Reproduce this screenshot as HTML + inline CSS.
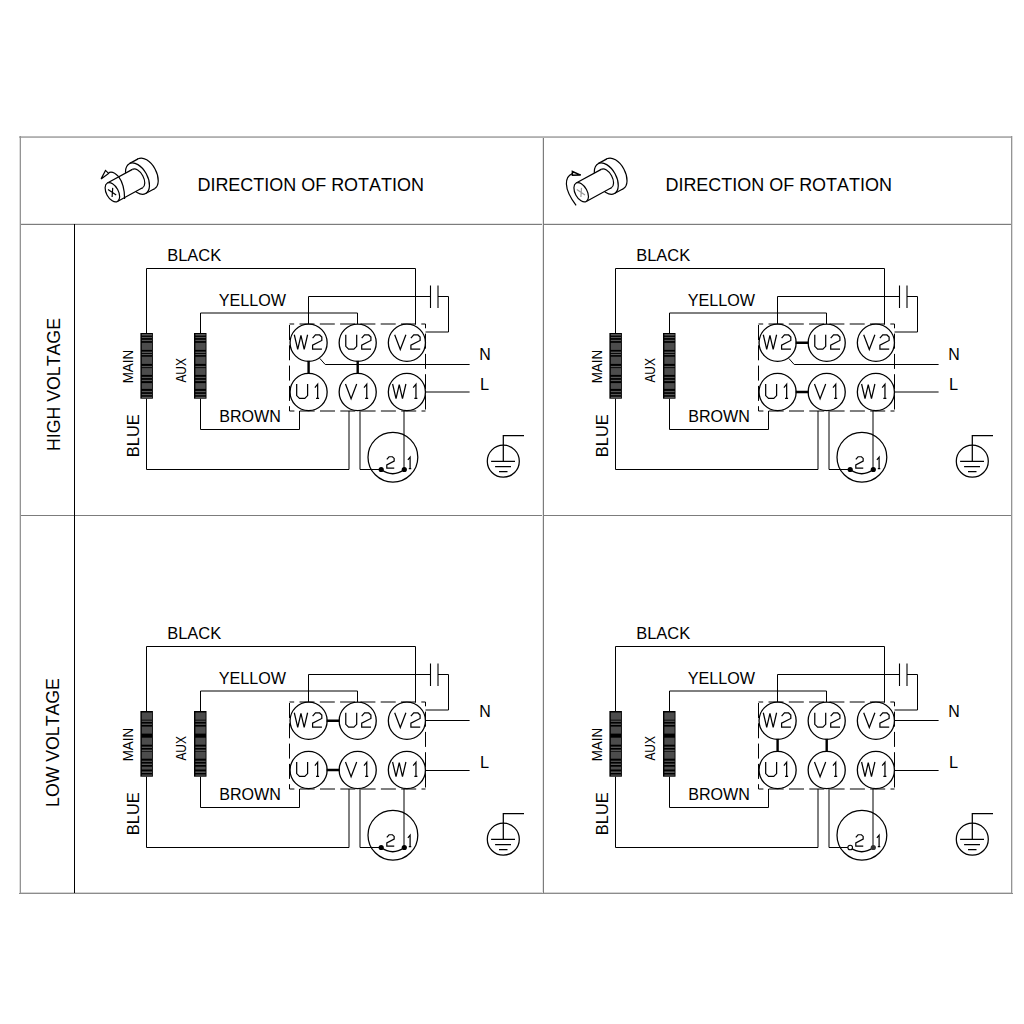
<!DOCTYPE html>
<html><head><meta charset="utf-8"><style>
html,body{margin:0;padding:0;background:#fff;}
svg{display:block;}
text{fill:#000;font-family:"Liberation Sans", sans-serif;font-kerning:none;}
</style></head><body>
<svg width="1024" height="1024" viewBox="0 0 1024 1024">
<rect width="1024" height="1024" fill="#fff"/>
<g shape-rendering="crispEdges">
<rect x="19" y="136" width="994" height="1" fill="#bcbcbc"/>
<rect x="19" y="137" width="994" height="1" fill="#b0b0b0"/>
<rect x="20" y="136" width="1" height="758" fill="#949494"/>
<rect x="19" y="138" width="1" height="756" fill="#dcdcdc"/>
<rect x="1011" y="136" width="1" height="758" fill="#949494"/>
<rect x="1012" y="136" width="1" height="758" fill="#dcdcdc"/>
<rect x="19" y="893" width="994" height="1" fill="#8c8c8c"/>
<rect x="21" y="892" width="990" height="1" fill="#d4d4d4"/>
<rect x="21" y="224" width="990" height="1" fill="#7c7c7c"/>
<rect x="21" y="223" width="990" height="1" fill="#e4e4e4"/>
<rect x="21" y="515" width="990" height="1" fill="#7c7c7c"/>
<rect x="543" y="138" width="1" height="755" fill="#7c7c7c"/>
<rect x="542" y="138" width="1" height="755" fill="#e4e4e4"/>
<rect x="74" y="224" width="1" height="669" fill="#000"/>
</g>
<text x="197.43" y="190.70" font-size="18" textLength="226.54" lengthAdjust="spacingAndGlyphs">DIRECTION OF ROTATION</text>
<text x="665.43" y="190.70" font-size="18" textLength="226.54" lengthAdjust="spacingAndGlyphs">DIRECTION OF ROTATION</text>
<text transform="translate(59.50,451.05) rotate(-90)" font-size="18" textLength="133.02" lengthAdjust="spacingAndGlyphs">HIGH VOLTAGE</text>
<text transform="translate(58.90,806.95) rotate(-90)" font-size="18" textLength="128.81" lengthAdjust="spacingAndGlyphs">LOW VOLTAGE</text>
<g transform="translate(0,0)"><text x="167.25" y="261.00" font-size="16" textLength="53.93" lengthAdjust="spacingAndGlyphs">BLACK</text><text x="218.85" y="305.80" font-size="16" textLength="67.21" lengthAdjust="spacingAndGlyphs">YELLOW</text><text x="219.28" y="421.80" font-size="16" textLength="61.63" lengthAdjust="spacingAndGlyphs">BROWN</text><text x="479.19" y="360.20" font-size="16" textLength="11.51" lengthAdjust="spacingAndGlyphs">N</text><text x="480.06" y="389.80" font-size="16" textLength="9.08" lengthAdjust="spacingAndGlyphs">L</text><text transform="translate(133.00,383.30) rotate(-90)" font-size="14" textLength="33.49" lengthAdjust="spacingAndGlyphs">MAIN</text><text transform="translate(186.40,382.62) rotate(-90)" font-size="14" textLength="24.57" lengthAdjust="spacingAndGlyphs">AUX</text><text transform="translate(138.70,457.15) rotate(-90)" font-size="16" textLength="42.96" lengthAdjust="spacingAndGlyphs">BLUE</text><rect x="140.4" y="333.0" width="12.5" height="65.7" fill="#000"/><rect x="141.8" y="334.0" width="10.2" height="1.6" fill="#565656"/><rect x="141.8" y="336.9" width="10.2" height="1.2" fill="#565656"/><rect x="141.8" y="339.8" width="10.2" height="1.3" fill="#565656"/><rect x="141.8" y="342.8" width="10.2" height="7.1" fill="#4c4c4c"/><rect x="141.8" y="351.6" width="10.2" height="1.4" fill="#565656"/><rect x="141.8" y="353.9" width="10.2" height="1.2" fill="#565656"/><rect x="141.8" y="356.7" width="10.2" height="7.2" fill="#4c4c4c"/><rect x="141.8" y="365.9" width="10.2" height="1.3" fill="#565656"/><rect x="141.8" y="368.1" width="10.2" height="6.8" fill="#4c4c4c"/><rect x="141.8" y="376.8" width="10.2" height="1.3" fill="#565656"/><rect x="141.8" y="379.8" width="10.2" height="1.3" fill="#565656"/><rect x="141.8" y="383.1" width="10.2" height="5.8" fill="#4c4c4c"/><rect x="141.8" y="390.9" width="10.2" height="1.3" fill="#565656"/><rect x="141.8" y="393.9" width="10.2" height="1.3" fill="#565656"/><rect x="141.8" y="396.7" width="10.2" height="1.3" fill="#565656"/><rect x="194.0" y="333.0" width="12.5" height="65.7" fill="#000"/><rect x="195.4" y="334.0" width="10.2" height="1.6" fill="#565656"/><rect x="195.4" y="336.9" width="10.2" height="1.2" fill="#565656"/><rect x="195.4" y="339.8" width="10.2" height="1.3" fill="#565656"/><rect x="195.4" y="342.8" width="10.2" height="7.1" fill="#4c4c4c"/><rect x="195.4" y="351.6" width="10.2" height="1.4" fill="#565656"/><rect x="195.4" y="353.9" width="10.2" height="1.2" fill="#565656"/><rect x="195.4" y="356.7" width="10.2" height="7.2" fill="#4c4c4c"/><rect x="195.4" y="365.9" width="10.2" height="1.3" fill="#565656"/><rect x="195.4" y="368.1" width="10.2" height="6.8" fill="#4c4c4c"/><rect x="195.4" y="376.8" width="10.2" height="1.3" fill="#565656"/><rect x="195.4" y="379.8" width="10.2" height="1.3" fill="#565656"/><rect x="195.4" y="383.1" width="10.2" height="5.8" fill="#4c4c4c"/><rect x="195.4" y="390.9" width="10.2" height="1.3" fill="#565656"/><rect x="195.4" y="393.9" width="10.2" height="1.3" fill="#565656"/><rect x="195.4" y="396.7" width="10.2" height="1.3" fill="#565656"/><g fill="none" stroke="#000" stroke-width="1"><path d="M146.5 333 V268.5 H415.5 V324.5"/><path d="M200.5 333 V313 H357.5 V324.5"/><path d="M308.5 324.5 V296.5 H430.5 M438 296.5 H448.5 V332 H425.5"/><path d="M430.5 285.5 V308 M438 285.5 V308" stroke-width="1.1"/><path d="M200.5 398.7 V429.5 H299.5 V411"/><path d="M146.5 398.7 V469.5 H349 V411"/><path d="M360 411 V469.5 H381"/><path d="M404 411 V469.5"/><path d="M319.8 358.4 L325.2 364.5 H469.6"/><path d="M425.5 392 H469.6"/></g><path d="M289.50 324.0 H294.20 M299.50 324.0 H314.50 M319.80 324.0 H334.80 M340.10 324.0 H355.10 M360.40 324.0 H375.40 M380.70 324.0 H395.70 M401.00 324.0 H416.00 M421.30 324.0 H425.50" stroke="#000" stroke-width="1.0" fill="none"/><path d="M289.50 411.0 H294.40 M299.70 411.0 H314.70 M320.00 411.0 H335.00 M340.30 411.0 H355.30 M360.60 411.0 H375.60 M380.90 411.0 H395.90 M401.20 411.0 H416.20 M421.50 411.0 H425.50" stroke="#000" stroke-width="1.0" fill="none"/><path d="M289.5 325.00 V340.00 M289.5 345.30 V360.30 M289.5 365.60 V380.60 M289.5 385.90 V400.90 M289.5 406.20 V411.00" stroke="#000" stroke-width="1.0" fill="none"/><path d="M425.5 324.00 V328.30 M425.5 333.60 V348.60 M425.5 353.90 V368.90 M425.5 374.20 V389.20 M425.5 394.50 V409.50" stroke="#000" stroke-width="1.0" fill="none"/><g fill="#fff" stroke="#000" stroke-width="1.3"><circle cx="308.6" cy="342.75" r="18.55"/><circle cx="357.7" cy="342.75" r="18.55"/><circle cx="406.9" cy="342.75" r="18.55"/><circle cx="308.6" cy="392.0" r="18.55"/><circle cx="357.7" cy="392.0" r="18.55"/><circle cx="406.9" cy="392.0" r="18.55"/></g><g fill="none" stroke="#000" stroke-width="1.3" stroke-linejoin="miter"><path transform="translate(294.30,334.75) scale(0.95)" d="M0 0 L3.6 15.5 L7 0.6 L10.4 15.5 L14 0"/><path transform="translate(312.60,334.75) scale(0.95)" d="M0 3.6 L3 0.2 H7.4 L9.7 2.4 V6 L0 11 V15.2 H9.8"/><path transform="translate(345.77,334.75) scale(0.95)" d="M0 0 V12.2 L3 15.2 H8.5 L11.5 12.2 V0"/><path transform="translate(361.70,334.75) scale(0.95)" d="M0 3.6 L3 0.2 H7.4 L9.7 2.4 V6 L0 11 V15.2 H9.8"/><path transform="translate(394.69,334.75) scale(0.95)" d="M0 0 L5.9 15.5 L11.8 0"/><path transform="translate(410.90,334.75) scale(0.95)" d="M0 3.6 L3 0.2 H7.4 L9.7 2.4 V6 L0 11 V15.2 H9.8"/><path transform="translate(296.68,384.00) scale(0.95)" d="M0 0 V12.2 L3 15.2 H8.5 L11.5 12.2 V0"/><path transform="translate(314.90,384.00) scale(0.95)" d="M0 3.9 L2.9 0.2 V15.2 M1.2 15.2 H4.4"/><path transform="translate(345.49,384.00) scale(0.95)" d="M0 0 L5.9 15.5 L11.8 0"/><path transform="translate(364.00,384.00) scale(0.95)" d="M0 3.9 L2.9 0.2 V15.2 M1.2 15.2 H4.4"/><path transform="translate(392.60,384.00) scale(0.95)" d="M0 0 L3.6 15.5 L7 0.6 L10.4 15.5 L14 0"/><path transform="translate(413.20,384.00) scale(0.95)" d="M0 3.9 L2.9 0.2 V15.2 M1.2 15.2 H4.4"/></g><g stroke="#000" stroke-width="2.4"><path d="M308.6 360.75 V374.0 M357.7 360.75 V374.0"/></g><circle cx="392.9" cy="457.2" r="24.9" fill="none" stroke="#000" stroke-width="1.25"/><path d="M381.2 469.5 Q392.7 478 404.3 469.5" fill="none" stroke="#000" stroke-width="1.3"/><circle cx="381.2" cy="469.5" r="2.6" fill="#000"/><circle cx="404.3" cy="469.5" r="2.6" fill="#000"/><g fill="none" stroke="#000" stroke-width="1.6"><path transform="translate(386.80,456.60) scale(0.76)" d="M0 3.6 L3 0.2 H7.4 L9.7 2.4 V6 L0 11 V15.2 H9.8"/><path transform="translate(407.90,457.00) scale(0.76)" d="M0 3.9 L2.9 0.2 V15.2 M1.2 15.2 H4.4"/></g><g fill="none" stroke="#000" stroke-width="1.25"><circle cx="503.3" cy="461.2" r="16"/><path d="M524 435.5 H503.3 V461.3 M491.1 461.3 H515 M495.1 466.5 H511 M499 471.6 H507.5"/></g></g>
<g transform="translate(469,0)"><text x="167.25" y="261.00" font-size="16" textLength="53.93" lengthAdjust="spacingAndGlyphs">BLACK</text><text x="218.85" y="305.80" font-size="16" textLength="67.21" lengthAdjust="spacingAndGlyphs">YELLOW</text><text x="219.28" y="421.80" font-size="16" textLength="61.63" lengthAdjust="spacingAndGlyphs">BROWN</text><text x="479.19" y="360.20" font-size="16" textLength="11.51" lengthAdjust="spacingAndGlyphs">N</text><text x="480.06" y="389.80" font-size="16" textLength="9.08" lengthAdjust="spacingAndGlyphs">L</text><text transform="translate(133.00,383.30) rotate(-90)" font-size="14" textLength="33.49" lengthAdjust="spacingAndGlyphs">MAIN</text><text transform="translate(186.40,382.62) rotate(-90)" font-size="14" textLength="24.57" lengthAdjust="spacingAndGlyphs">AUX</text><text transform="translate(138.70,457.15) rotate(-90)" font-size="16" textLength="42.96" lengthAdjust="spacingAndGlyphs">BLUE</text><rect x="140.4" y="333.0" width="12.5" height="65.7" fill="#000"/><rect x="141.8" y="334.0" width="10.2" height="1.6" fill="#565656"/><rect x="141.8" y="336.9" width="10.2" height="1.2" fill="#565656"/><rect x="141.8" y="339.8" width="10.2" height="1.3" fill="#565656"/><rect x="141.8" y="342.8" width="10.2" height="7.1" fill="#4c4c4c"/><rect x="141.8" y="351.6" width="10.2" height="1.4" fill="#565656"/><rect x="141.8" y="353.9" width="10.2" height="1.2" fill="#565656"/><rect x="141.8" y="356.7" width="10.2" height="7.2" fill="#4c4c4c"/><rect x="141.8" y="365.9" width="10.2" height="1.3" fill="#565656"/><rect x="141.8" y="368.1" width="10.2" height="6.8" fill="#4c4c4c"/><rect x="141.8" y="376.8" width="10.2" height="1.3" fill="#565656"/><rect x="141.8" y="379.8" width="10.2" height="1.3" fill="#565656"/><rect x="141.8" y="383.1" width="10.2" height="5.8" fill="#4c4c4c"/><rect x="141.8" y="390.9" width="10.2" height="1.3" fill="#565656"/><rect x="141.8" y="393.9" width="10.2" height="1.3" fill="#565656"/><rect x="141.8" y="396.7" width="10.2" height="1.3" fill="#565656"/><rect x="194.0" y="333.0" width="12.5" height="65.7" fill="#000"/><rect x="195.4" y="334.0" width="10.2" height="1.6" fill="#565656"/><rect x="195.4" y="336.9" width="10.2" height="1.2" fill="#565656"/><rect x="195.4" y="339.8" width="10.2" height="1.3" fill="#565656"/><rect x="195.4" y="342.8" width="10.2" height="7.1" fill="#4c4c4c"/><rect x="195.4" y="351.6" width="10.2" height="1.4" fill="#565656"/><rect x="195.4" y="353.9" width="10.2" height="1.2" fill="#565656"/><rect x="195.4" y="356.7" width="10.2" height="7.2" fill="#4c4c4c"/><rect x="195.4" y="365.9" width="10.2" height="1.3" fill="#565656"/><rect x="195.4" y="368.1" width="10.2" height="6.8" fill="#4c4c4c"/><rect x="195.4" y="376.8" width="10.2" height="1.3" fill="#565656"/><rect x="195.4" y="379.8" width="10.2" height="1.3" fill="#565656"/><rect x="195.4" y="383.1" width="10.2" height="5.8" fill="#4c4c4c"/><rect x="195.4" y="390.9" width="10.2" height="1.3" fill="#565656"/><rect x="195.4" y="393.9" width="10.2" height="1.3" fill="#565656"/><rect x="195.4" y="396.7" width="10.2" height="1.3" fill="#565656"/><g fill="none" stroke="#000" stroke-width="1"><path d="M146.5 333 V268.5 H415.5 V324.5"/><path d="M200.5 333 V313 H357.5 V324.5"/><path d="M308.5 324.5 V296.5 H430.5 M438 296.5 H448.5 V332 H425.5"/><path d="M430.5 285.5 V308 M438 285.5 V308" stroke-width="1.1"/><path d="M200.5 398.7 V429.5 H299.5 V411"/><path d="M146.5 398.7 V469.5 H349 V411"/><path d="M360 411 V469.5 H381"/><path d="M404 411 V469.5"/><path d="M319.8 358.4 L325.2 364.5 H469.6"/><path d="M425.5 392 H469.6"/></g><path d="M289.50 324.0 H294.20 M299.50 324.0 H314.50 M319.80 324.0 H334.80 M340.10 324.0 H355.10 M360.40 324.0 H375.40 M380.70 324.0 H395.70 M401.00 324.0 H416.00 M421.30 324.0 H425.50" stroke="#000" stroke-width="1.0" fill="none"/><path d="M289.50 411.0 H294.40 M299.70 411.0 H314.70 M320.00 411.0 H335.00 M340.30 411.0 H355.30 M360.60 411.0 H375.60 M380.90 411.0 H395.90 M401.20 411.0 H416.20 M421.50 411.0 H425.50" stroke="#000" stroke-width="1.0" fill="none"/><path d="M289.5 325.00 V340.00 M289.5 345.30 V360.30 M289.5 365.60 V380.60 M289.5 385.90 V400.90 M289.5 406.20 V411.00" stroke="#000" stroke-width="1.0" fill="none"/><path d="M425.5 324.00 V328.30 M425.5 333.60 V348.60 M425.5 353.90 V368.90 M425.5 374.20 V389.20 M425.5 394.50 V409.50" stroke="#000" stroke-width="1.0" fill="none"/><g fill="#fff" stroke="#000" stroke-width="1.3"><circle cx="308.6" cy="342.75" r="18.55"/><circle cx="357.7" cy="342.75" r="18.55"/><circle cx="406.9" cy="342.75" r="18.55"/><circle cx="308.6" cy="392.0" r="18.55"/><circle cx="357.7" cy="392.0" r="18.55"/><circle cx="406.9" cy="392.0" r="18.55"/></g><g fill="none" stroke="#000" stroke-width="1.3" stroke-linejoin="miter"><path transform="translate(294.30,334.75) scale(0.95)" d="M0 0 L3.6 15.5 L7 0.6 L10.4 15.5 L14 0"/><path transform="translate(312.60,334.75) scale(0.95)" d="M0 3.6 L3 0.2 H7.4 L9.7 2.4 V6 L0 11 V15.2 H9.8"/><path transform="translate(345.77,334.75) scale(0.95)" d="M0 0 V12.2 L3 15.2 H8.5 L11.5 12.2 V0"/><path transform="translate(361.70,334.75) scale(0.95)" d="M0 3.6 L3 0.2 H7.4 L9.7 2.4 V6 L0 11 V15.2 H9.8"/><path transform="translate(394.69,334.75) scale(0.95)" d="M0 0 L5.9 15.5 L11.8 0"/><path transform="translate(410.90,334.75) scale(0.95)" d="M0 3.6 L3 0.2 H7.4 L9.7 2.4 V6 L0 11 V15.2 H9.8"/><path transform="translate(296.68,384.00) scale(0.95)" d="M0 0 V12.2 L3 15.2 H8.5 L11.5 12.2 V0"/><path transform="translate(314.90,384.00) scale(0.95)" d="M0 3.9 L2.9 0.2 V15.2 M1.2 15.2 H4.4"/><path transform="translate(345.49,384.00) scale(0.95)" d="M0 0 L5.9 15.5 L11.8 0"/><path transform="translate(364.00,384.00) scale(0.95)" d="M0 3.9 L2.9 0.2 V15.2 M1.2 15.2 H4.4"/><path transform="translate(392.60,384.00) scale(0.95)" d="M0 0 L3.6 15.5 L7 0.6 L10.4 15.5 L14 0"/><path transform="translate(413.20,384.00) scale(0.95)" d="M0 3.9 L2.9 0.2 V15.2 M1.2 15.2 H4.4"/></g><g stroke="#000" stroke-width="2.4"><path d="M326.6 342.75 H339.7 M326.6 392.0 H339.7"/></g><circle cx="392.9" cy="457.2" r="24.9" fill="none" stroke="#000" stroke-width="1.25"/><path d="M381.2 469.5 Q392.7 478 404.3 469.5" fill="none" stroke="#000" stroke-width="1.3"/><circle cx="381.2" cy="469.5" r="2.6" fill="#000"/><circle cx="404.3" cy="469.5" r="2.6" fill="#000"/><g fill="none" stroke="#000" stroke-width="1.6"><path transform="translate(386.80,456.60) scale(0.76)" d="M0 3.6 L3 0.2 H7.4 L9.7 2.4 V6 L0 11 V15.2 H9.8"/><path transform="translate(407.90,457.00) scale(0.76)" d="M0 3.9 L2.9 0.2 V15.2 M1.2 15.2 H4.4"/></g><g fill="none" stroke="#000" stroke-width="1.25"><circle cx="503.3" cy="461.2" r="16"/><path d="M524 435.5 H503.3 V461.3 M491.1 461.3 H515 M495.1 466.5 H511 M499 471.6 H507.5"/></g></g>
<g transform="translate(0,378)"><text x="167.25" y="261.00" font-size="16" textLength="53.93" lengthAdjust="spacingAndGlyphs">BLACK</text><text x="218.85" y="305.80" font-size="16" textLength="67.21" lengthAdjust="spacingAndGlyphs">YELLOW</text><text x="219.28" y="421.80" font-size="16" textLength="61.63" lengthAdjust="spacingAndGlyphs">BROWN</text><text x="479.19" y="339.00" font-size="16" textLength="11.51" lengthAdjust="spacingAndGlyphs">N</text><text x="480.06" y="389.80" font-size="16" textLength="9.08" lengthAdjust="spacingAndGlyphs">L</text><text transform="translate(133.00,383.30) rotate(-90)" font-size="14" textLength="33.49" lengthAdjust="spacingAndGlyphs">MAIN</text><text transform="translate(186.40,382.62) rotate(-90)" font-size="14" textLength="24.57" lengthAdjust="spacingAndGlyphs">AUX</text><text transform="translate(138.70,457.15) rotate(-90)" font-size="16" textLength="42.96" lengthAdjust="spacingAndGlyphs">BLUE</text><rect x="140.4" y="333.0" width="12.5" height="65.7" fill="#000"/><rect x="141.8" y="334.5" width="10.2" height="7.2" fill="#4c4c4c"/><rect x="141.8" y="342.6" width="10.2" height="1.3" fill="#565656"/><rect x="141.8" y="345.6" width="10.2" height="1.3" fill="#565656"/><rect x="141.8" y="348.6" width="10.2" height="7" fill="#4c4c4c"/><rect x="141.8" y="359.7" width="10.2" height="7" fill="#4c4c4c"/><rect x="141.8" y="368.6" width="10.2" height="1.4" fill="#565656"/><rect x="141.8" y="371.6" width="10.2" height="1.5" fill="#565656"/><rect x="141.8" y="373.7" width="10.2" height="7" fill="#4c4c4c"/><rect x="141.8" y="382.7" width="10.2" height="1.2" fill="#565656"/><rect x="141.8" y="385.6" width="10.2" height="1.4" fill="#565656"/><rect x="141.8" y="388.7" width="10.2" height="2.8" fill="#4c4c4c"/><rect x="141.8" y="393.4" width="10.2" height="1.6" fill="#565656"/><rect x="141.8" y="396.5" width="10.2" height="1.2" fill="#565656"/><rect x="194.0" y="333.0" width="12.5" height="65.7" fill="#000"/><rect x="195.4" y="334.5" width="10.2" height="7.2" fill="#4c4c4c"/><rect x="195.4" y="342.6" width="10.2" height="1.3" fill="#565656"/><rect x="195.4" y="345.6" width="10.2" height="1.3" fill="#565656"/><rect x="195.4" y="348.6" width="10.2" height="7" fill="#4c4c4c"/><rect x="195.4" y="359.7" width="10.2" height="7" fill="#4c4c4c"/><rect x="195.4" y="368.6" width="10.2" height="1.4" fill="#565656"/><rect x="195.4" y="371.6" width="10.2" height="1.5" fill="#565656"/><rect x="195.4" y="373.7" width="10.2" height="7" fill="#4c4c4c"/><rect x="195.4" y="382.7" width="10.2" height="1.2" fill="#565656"/><rect x="195.4" y="385.6" width="10.2" height="1.4" fill="#565656"/><rect x="195.4" y="388.7" width="10.2" height="2.8" fill="#4c4c4c"/><rect x="195.4" y="393.4" width="10.2" height="1.6" fill="#565656"/><rect x="195.4" y="396.5" width="10.2" height="1.2" fill="#565656"/><g fill="none" stroke="#000" stroke-width="1"><path d="M146.5 333 V268.5 H415.5 V324.5"/><path d="M200.5 333 V313 H357.5 V324.5"/><path d="M308.5 324.5 V296.5 H430.5 M438 296.5 H448.5 V332 H425.5"/><path d="M430.5 285.5 V308 M438 285.5 V308" stroke-width="1.1"/><path d="M200.5 398.7 V429.5 H299.5 V411"/><path d="M146.5 398.7 V469.5 H349 V411"/><path d="M360 411 V469.5 H381"/><path d="M404 411 V469.5"/><path d="M425.5 342.5 H469.6"/><path d="M425.5 392.5 H469.6"/></g><path d="M289.50 324.0 H294.20 M299.50 324.0 H314.50 M319.80 324.0 H334.80 M340.10 324.0 H355.10 M360.40 324.0 H375.40 M380.70 324.0 H395.70 M401.00 324.0 H416.00 M421.30 324.0 H425.50" stroke="#000" stroke-width="1.0" fill="none"/><path d="M289.50 411.0 H294.40 M299.70 411.0 H314.70 M320.00 411.0 H335.00 M340.30 411.0 H355.30 M360.60 411.0 H375.60 M380.90 411.0 H395.90 M401.20 411.0 H416.20 M421.50 411.0 H425.50" stroke="#000" stroke-width="1.0" fill="none"/><path d="M289.5 325.00 V340.00 M289.5 345.30 V360.30 M289.5 365.60 V380.60 M289.5 385.90 V400.90 M289.5 406.20 V411.00" stroke="#000" stroke-width="1.0" fill="none"/><path d="M425.5 324.00 V328.30 M425.5 333.60 V348.60 M425.5 353.90 V368.90 M425.5 374.20 V389.20 M425.5 394.50 V409.50" stroke="#000" stroke-width="1.0" fill="none"/><g fill="#fff" stroke="#000" stroke-width="1.3"><circle cx="308.6" cy="342.75" r="18.55"/><circle cx="357.7" cy="342.75" r="18.55"/><circle cx="406.9" cy="342.75" r="18.55"/><circle cx="308.6" cy="392.0" r="18.55"/><circle cx="357.7" cy="392.0" r="18.55"/><circle cx="406.9" cy="392.0" r="18.55"/></g><g fill="none" stroke="#000" stroke-width="1.3" stroke-linejoin="miter"><path transform="translate(294.30,334.75) scale(0.95)" d="M0 0 L3.6 15.5 L7 0.6 L10.4 15.5 L14 0"/><path transform="translate(312.60,334.75) scale(0.95)" d="M0 3.6 L3 0.2 H7.4 L9.7 2.4 V6 L0 11 V15.2 H9.8"/><path transform="translate(345.77,334.75) scale(0.95)" d="M0 0 V12.2 L3 15.2 H8.5 L11.5 12.2 V0"/><path transform="translate(361.70,334.75) scale(0.95)" d="M0 3.6 L3 0.2 H7.4 L9.7 2.4 V6 L0 11 V15.2 H9.8"/><path transform="translate(394.69,334.75) scale(0.95)" d="M0 0 L5.9 15.5 L11.8 0"/><path transform="translate(410.90,334.75) scale(0.95)" d="M0 3.6 L3 0.2 H7.4 L9.7 2.4 V6 L0 11 V15.2 H9.8"/><path transform="translate(296.68,384.00) scale(0.95)" d="M0 0 V12.2 L3 15.2 H8.5 L11.5 12.2 V0"/><path transform="translate(314.90,384.00) scale(0.95)" d="M0 3.9 L2.9 0.2 V15.2 M1.2 15.2 H4.4"/><path transform="translate(345.49,384.00) scale(0.95)" d="M0 0 L5.9 15.5 L11.8 0"/><path transform="translate(364.00,384.00) scale(0.95)" d="M0 3.9 L2.9 0.2 V15.2 M1.2 15.2 H4.4"/><path transform="translate(392.60,384.00) scale(0.95)" d="M0 0 L3.6 15.5 L7 0.6 L10.4 15.5 L14 0"/><path transform="translate(413.20,384.00) scale(0.95)" d="M0 3.9 L2.9 0.2 V15.2 M1.2 15.2 H4.4"/></g><g stroke="#000" stroke-width="2.4"><path d="M326.6 342.75 H339.7 M326.6 392.0 H339.7"/></g><circle cx="392.9" cy="457.2" r="24.9" fill="none" stroke="#000" stroke-width="1.25"/><path d="M381.2 469.5 Q392.7 478 404.3 469.5" fill="none" stroke="#000" stroke-width="1.3"/><circle cx="381.2" cy="469.5" r="2.6" fill="#000"/><circle cx="404.3" cy="469.5" r="2.6" fill="#000"/><g fill="none" stroke="#000" stroke-width="1.6"><path transform="translate(386.80,456.60) scale(0.76)" d="M0 3.6 L3 0.2 H7.4 L9.7 2.4 V6 L0 11 V15.2 H9.8"/><path transform="translate(407.90,457.00) scale(0.76)" d="M0 3.9 L2.9 0.2 V15.2 M1.2 15.2 H4.4"/></g><g fill="none" stroke="#000" stroke-width="1.25"><circle cx="503.3" cy="461.2" r="16"/><path d="M524 435.5 H503.3 V461.3 M491.1 461.3 H515 M495.1 466.5 H511 M499 471.6 H507.5"/></g></g>
<g transform="translate(469,378)"><text x="167.25" y="261.00" font-size="16" textLength="53.93" lengthAdjust="spacingAndGlyphs">BLACK</text><text x="218.85" y="305.80" font-size="16" textLength="67.21" lengthAdjust="spacingAndGlyphs">YELLOW</text><text x="219.28" y="421.80" font-size="16" textLength="61.63" lengthAdjust="spacingAndGlyphs">BROWN</text><text x="479.19" y="339.00" font-size="16" textLength="11.51" lengthAdjust="spacingAndGlyphs">N</text><text x="480.06" y="389.80" font-size="16" textLength="9.08" lengthAdjust="spacingAndGlyphs">L</text><text transform="translate(133.00,383.30) rotate(-90)" font-size="14" textLength="33.49" lengthAdjust="spacingAndGlyphs">MAIN</text><text transform="translate(186.40,382.62) rotate(-90)" font-size="14" textLength="24.57" lengthAdjust="spacingAndGlyphs">AUX</text><text transform="translate(138.70,457.15) rotate(-90)" font-size="16" textLength="42.96" lengthAdjust="spacingAndGlyphs">BLUE</text><rect x="140.4" y="333.0" width="12.5" height="65.7" fill="#000"/><rect x="141.8" y="334.5" width="10.2" height="7.2" fill="#4c4c4c"/><rect x="141.8" y="342.6" width="10.2" height="1.3" fill="#565656"/><rect x="141.8" y="345.6" width="10.2" height="1.3" fill="#565656"/><rect x="141.8" y="348.6" width="10.2" height="7" fill="#4c4c4c"/><rect x="141.8" y="359.7" width="10.2" height="7" fill="#4c4c4c"/><rect x="141.8" y="368.6" width="10.2" height="1.4" fill="#565656"/><rect x="141.8" y="371.6" width="10.2" height="1.5" fill="#565656"/><rect x="141.8" y="373.7" width="10.2" height="7" fill="#4c4c4c"/><rect x="141.8" y="382.7" width="10.2" height="1.2" fill="#565656"/><rect x="141.8" y="385.6" width="10.2" height="1.4" fill="#565656"/><rect x="141.8" y="388.7" width="10.2" height="2.8" fill="#4c4c4c"/><rect x="141.8" y="393.4" width="10.2" height="1.6" fill="#565656"/><rect x="141.8" y="396.5" width="10.2" height="1.2" fill="#565656"/><rect x="194.0" y="333.0" width="12.5" height="65.7" fill="#000"/><rect x="195.4" y="334.5" width="10.2" height="7.2" fill="#4c4c4c"/><rect x="195.4" y="342.6" width="10.2" height="1.3" fill="#565656"/><rect x="195.4" y="345.6" width="10.2" height="1.3" fill="#565656"/><rect x="195.4" y="348.6" width="10.2" height="7" fill="#4c4c4c"/><rect x="195.4" y="359.7" width="10.2" height="7" fill="#4c4c4c"/><rect x="195.4" y="368.6" width="10.2" height="1.4" fill="#565656"/><rect x="195.4" y="371.6" width="10.2" height="1.5" fill="#565656"/><rect x="195.4" y="373.7" width="10.2" height="7" fill="#4c4c4c"/><rect x="195.4" y="382.7" width="10.2" height="1.2" fill="#565656"/><rect x="195.4" y="385.6" width="10.2" height="1.4" fill="#565656"/><rect x="195.4" y="388.7" width="10.2" height="2.8" fill="#4c4c4c"/><rect x="195.4" y="393.4" width="10.2" height="1.6" fill="#565656"/><rect x="195.4" y="396.5" width="10.2" height="1.2" fill="#565656"/><g fill="none" stroke="#000" stroke-width="1"><path d="M146.5 333 V268.5 H415.5 V324.5"/><path d="M200.5 333 V313 H357.5 V324.5"/><path d="M308.5 324.5 V296.5 H430.5 M438 296.5 H448.5 V332 H425.5"/><path d="M430.5 285.5 V308 M438 285.5 V308" stroke-width="1.1"/><path d="M200.5 398.7 V429.5 H299.5 V411"/><path d="M146.5 398.7 V469.5 H349 V411"/><path d="M360 411 V469.5 H381"/><path d="M404 411 V469.5"/><path d="M425.5 342.5 H469.6"/><path d="M425.5 392.5 H469.6"/></g><path d="M289.50 324.0 H294.20 M299.50 324.0 H314.50 M319.80 324.0 H334.80 M340.10 324.0 H355.10 M360.40 324.0 H375.40 M380.70 324.0 H395.70 M401.00 324.0 H416.00 M421.30 324.0 H425.50" stroke="#000" stroke-width="1.0" fill="none"/><path d="M289.50 411.0 H294.40 M299.70 411.0 H314.70 M320.00 411.0 H335.00 M340.30 411.0 H355.30 M360.60 411.0 H375.60 M380.90 411.0 H395.90 M401.20 411.0 H416.20 M421.50 411.0 H425.50" stroke="#000" stroke-width="1.0" fill="none"/><path d="M289.5 325.00 V340.00 M289.5 345.30 V360.30 M289.5 365.60 V380.60 M289.5 385.90 V400.90 M289.5 406.20 V411.00" stroke="#000" stroke-width="1.0" fill="none"/><path d="M425.5 324.00 V328.30 M425.5 333.60 V348.60 M425.5 353.90 V368.90 M425.5 374.20 V389.20 M425.5 394.50 V409.50" stroke="#000" stroke-width="1.0" fill="none"/><g fill="#fff" stroke="#000" stroke-width="1.3"><circle cx="308.6" cy="342.75" r="18.55"/><circle cx="357.7" cy="342.75" r="18.55"/><circle cx="406.9" cy="342.75" r="18.55"/><circle cx="308.6" cy="392.0" r="18.55"/><circle cx="357.7" cy="392.0" r="18.55"/><circle cx="406.9" cy="392.0" r="18.55"/></g><g fill="none" stroke="#000" stroke-width="1.3" stroke-linejoin="miter"><path transform="translate(294.30,334.75) scale(0.95)" d="M0 0 L3.6 15.5 L7 0.6 L10.4 15.5 L14 0"/><path transform="translate(312.60,334.75) scale(0.95)" d="M0 3.6 L3 0.2 H7.4 L9.7 2.4 V6 L0 11 V15.2 H9.8"/><path transform="translate(345.77,334.75) scale(0.95)" d="M0 0 V12.2 L3 15.2 H8.5 L11.5 12.2 V0"/><path transform="translate(361.70,334.75) scale(0.95)" d="M0 3.6 L3 0.2 H7.4 L9.7 2.4 V6 L0 11 V15.2 H9.8"/><path transform="translate(394.69,334.75) scale(0.95)" d="M0 0 L5.9 15.5 L11.8 0"/><path transform="translate(410.90,334.75) scale(0.95)" d="M0 3.6 L3 0.2 H7.4 L9.7 2.4 V6 L0 11 V15.2 H9.8"/><path transform="translate(296.68,384.00) scale(0.95)" d="M0 0 V12.2 L3 15.2 H8.5 L11.5 12.2 V0"/><path transform="translate(314.90,384.00) scale(0.95)" d="M0 3.9 L2.9 0.2 V15.2 M1.2 15.2 H4.4"/><path transform="translate(345.49,384.00) scale(0.95)" d="M0 0 L5.9 15.5 L11.8 0"/><path transform="translate(364.00,384.00) scale(0.95)" d="M0 3.9 L2.9 0.2 V15.2 M1.2 15.2 H4.4"/><path transform="translate(392.60,384.00) scale(0.95)" d="M0 0 L3.6 15.5 L7 0.6 L10.4 15.5 L14 0"/><path transform="translate(413.20,384.00) scale(0.95)" d="M0 3.9 L2.9 0.2 V15.2 M1.2 15.2 H4.4"/></g><g stroke="#000" stroke-width="2.4"><path d="M308.6 360.75 V374.0 M357.7 360.75 V374.0"/></g><circle cx="392.9" cy="457.2" r="24.9" fill="none" stroke="#000" stroke-width="1.25"/><path d="M381.2 469.5 Q392.7 478 404.3 469.5" fill="none" stroke="#000" stroke-width="1.3"/><circle cx="381.2" cy="469.5" r="2.3" fill="#fff" stroke="#000" stroke-width="1.1"/><circle cx="404.3" cy="469.5" r="2.6" fill="#333"/><g fill="none" stroke="#000" stroke-width="1.6"><path transform="translate(386.80,456.60) scale(0.76)" d="M0 3.6 L3 0.2 H7.4 L9.7 2.4 V6 L0 11 V15.2 H9.8"/><path transform="translate(407.90,457.00) scale(0.76)" d="M0 3.9 L2.9 0.2 V15.2 M1.2 15.2 H4.4"/></g><g fill="none" stroke="#000" stroke-width="1.25"><circle cx="503.3" cy="461.2" r="16"/><path d="M524 435.5 H503.3 V461.3 M491.1 461.3 H515 M495.1 466.5 H511 M499 471.6 H507.5"/></g></g>
<g transform="translate(0,0)" stroke="#000" stroke-width="1.2" fill="#fff"><ellipse cx="146.26" cy="173.76" rx="10.00" ry="17.00" transform="rotate(-28.7 146.26 173.76)" /><path d="M129.32 163.65 L138.09 158.85 L154.42 188.67 L145.65 193.48Z" stroke="none"/><path d="M129.32 163.65 L138.09 158.85 M154.42 188.67 L145.65 193.48" fill="none"/><ellipse cx="137.49" cy="178.57" rx="10.00" ry="17.00" transform="rotate(-28.7 137.49 178.57)" /><ellipse cx="137.49" cy="178.57" rx="6.00" ry="10.50" transform="rotate(-28.7 137.49 178.57)" /><path d="M118.6 176.7 C115.5 173.2 111.5 171.2 108.6 172.6" fill="none"/><path d="M101.1 178.9 L105.5 170.4 L108.6 173.4 Z" fill="#fff" stroke-linejoin="miter"/><path d="M107.36 183.09 L132.44 169.36 L142.53 187.78 L117.44 201.51Z" stroke="none"/><path d="M107.36 183.09 L132.44 169.36 M142.53 187.78 L117.44 201.51" fill="none"/><path d="M118.6 176.7 C121.5 180.5 124.6 188 124.6 199" fill="none"/><ellipse cx="112.40" cy="192.30" rx="6.00" ry="10.50" transform="rotate(-28.7 112.40 192.30)" /><path d="M108.0 189.6 L116.2 194.9 M112.7 187.9 L112.1 197" stroke="#000" fill="none"/></g>
<g transform="translate(468.8,0)" stroke="#000" stroke-width="1.2" fill="#fff"><ellipse cx="146.26" cy="173.76" rx="10.00" ry="17.00" transform="rotate(-28.7 146.26 173.76)" /><path d="M129.32 163.65 L138.09 158.85 L154.42 188.67 L145.65 193.48Z" stroke="none"/><path d="M129.32 163.65 L138.09 158.85 M154.42 188.67 L145.65 193.48" fill="none"/><ellipse cx="137.49" cy="178.57" rx="10.00" ry="17.00" transform="rotate(-28.7 137.49 178.57)" /><ellipse cx="137.49" cy="178.57" rx="6.00" ry="10.50" transform="rotate(-28.7 137.49 178.57)" /><path d="M107.36 183.09 L132.44 169.36 L142.53 187.78 L117.44 201.51Z" stroke="none"/><path d="M107.36 183.09 L132.44 169.36 M142.53 187.78 L117.44 201.51" fill="none"/><ellipse cx="112.40" cy="192.30" rx="6.00" ry="10.50" transform="rotate(-28.7 112.40 192.30)" /><path d="M108.0 189.6 L116.2 194.9 M112.7 187.9 L112.1 197" stroke="#999" fill="none"/><path d="M107.3 205.4 C102.5 199 97.8 191 97.6 184 C97.5 178.5 100 175 103.5 173.6" fill="none"/><path d="M103.6 171.5 L111.9 175.1 L103.6 175.3 Z" fill="#fff" stroke-linejoin="miter" stroke-width="1.5"/></g>
</svg>
</body></html>
